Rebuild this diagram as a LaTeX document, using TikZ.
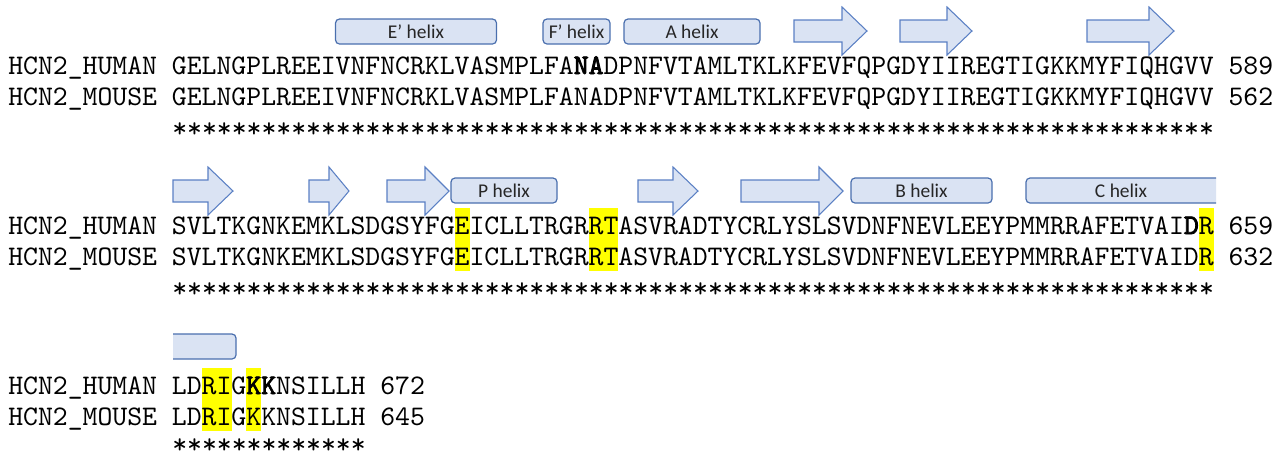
\documentclass[tikz,border=0pt]{standalone}
\usepackage{fontspec}
\setmonofont{lmmono10-regular.otf}[BoldFont=lmmono10-regular.otf,BoldFeatures={FakeBold=3}]
\newfontfamily\helixfont{Carlito}
\usepackage{tikz}
\usetikzlibrary{positioning}
\definecolor{helixfill}{HTML}{DAE3F3}
\definecolor{helixline}{HTML}{4A6FAE}
\definecolor{strandline}{HTML}{5B80C4}
\definecolor{hlyellow}{HTML}{FFFF00}
\tikzstyle{seq}=[anchor=base west,inner sep=0pt,font=\fontsize{21.26}{22}\selectfont\ttfamily]
\tikzstyle{helix}=[draw=helixline,fill=helixfill,rounded corners=3pt,line width=0.9pt,minimum height=18.75pt,inner sep=0pt,text=black!85,font=\fontsize{14.6}{16}\selectfont\helixfont]
\tikzstyle{helixtext}=[inner sep=0pt,text=black!85,font=\fontsize{14.6}{16}\selectfont\helixfont]
\tikzstyle{strand}=[draw=strandline,fill=helixfill,line width=0.8pt,line join=miter]
\tikzstyle{hl}=[fill=hlyellow]
% arrow for a strand: tail x, head base x, tip x, centre y
\newcommand{\strandarrow}[4]{\draw[strand] (#1,#4-11) -- (#2,#4-11) -- (#2,#4-24) -- (#3,#4) -- (#2,#4+24) -- (#2,#4+11) -- (#1,#4+11) -- cycle;}
% yellow mark: first residue, number of residues, baseline
\newcommand{\hlmark}[3]{\fill[hl] ({172+(#1-1)*14.88},#3-26) rectangle ({172+(#1-1+#2)*14.88},#3+5.5);}

\begin{document}
\begin{tikzpicture}[x=0.75pt,y=-0.75pt]
\useasboundingbox (0,0) rectangle (1285,455);

% block 1
\node[helix,minimum width=161*0.75pt] (eh) at (416,31.5) {E’ helix};
\node[helix,minimum width=67*0.75pt] (fh) at (576.5,31.5) {F’ helix};
\node[helix,minimum width=136*0.75pt] (ah) at (692,31.5) {A helix};
\strandarrow{794}{842}{867}{31}
\strandarrow{900}{947}{972}{31}
\strandarrow{1087}{1149}{1174}{31}
\node[seq] (h1) at (8,74) {HCN2\_HUMAN GELNGPLREEIVNFNCRKLVASMPLFA\textbf{NA}DPNFVTAMLTKLKFEVFQPGDYIIREGTIGKKMYFIQHGVV 589};
\node[seq] (m1) at (8,105.5) {HCN2\_MOUSE GELNGPLREEIVNFNCRKLVASMPLFANADPNFVTAMLTKLKFEVFQPGDYIIREGTIGKKMYFIQHGVV 562};
\node[seq] (s1) at (172,137) {**********************************************************************};

% block 2
\strandarrow{173}{208}{233}{191}
\strandarrow{309}{329}{349}{191}
\strandarrow{387}{425}{449}{191}
\node[helix,minimum width=106*0.75pt] (ph) at (504,190.5) {P helix};
\strandarrow{638}{673}{698}{191}
\strandarrow{741}{819}{843}{191}
\node[helix,minimum width=141*0.75pt] (bh) at (921.5,190.5) {B helix};
\draw[helix] (1216,178) -- (1026,178) -- (1026,203) -- (1216,203);
\node[helixtext] (ch) at (1121,190.5) {C helix};
\hlmark{20}{1}{234} \hlmark{29}{2}{234} \hlmark{70}{1}{234}
\hlmark{20}{1}{265.5} \hlmark{29}{2}{265.5} \hlmark{70}{1}{265.5}
\node[seq] (h2) at (8,234) {HCN2\_HUMAN SVLTKGNKEMKLSDGSYFGEICLLTRGRRTASVRADTYCRLYSLSVDNFNEVLEEYPMMRRAFETVAI\textbf{D}R 659};
\node[seq] (m2) at (8,265.5) {HCN2\_MOUSE SVLTKGNKEMKLSDGSYFGEICLLTRGRRTASVRADTYCRLYSLSVDNFNEVLEEYPMMRRAFETVAIDR 632};
\node[seq] (s2) at (172,297) {**********************************************************************};

% block 3
\draw[helix] (173,334) -- (236,334) -- (236,359) -- (173,359);
\hlmark{3}{2}{394} \hlmark{6}{1}{394}
\hlmark{3}{2}{425.5} \hlmark{6}{1}{425.5}
\node[seq] (h3) at (8,394) {HCN2\_HUMAN LDRIG\textbf{KK}NSILLH 672};
\node[seq] (m3) at (8,425.5) {HCN2\_MOUSE LDRIGKKNSILLH 645};
\node[seq,text depth=0pt] (s3) at (172,453) {*************};
\end{tikzpicture}
\end{document}
